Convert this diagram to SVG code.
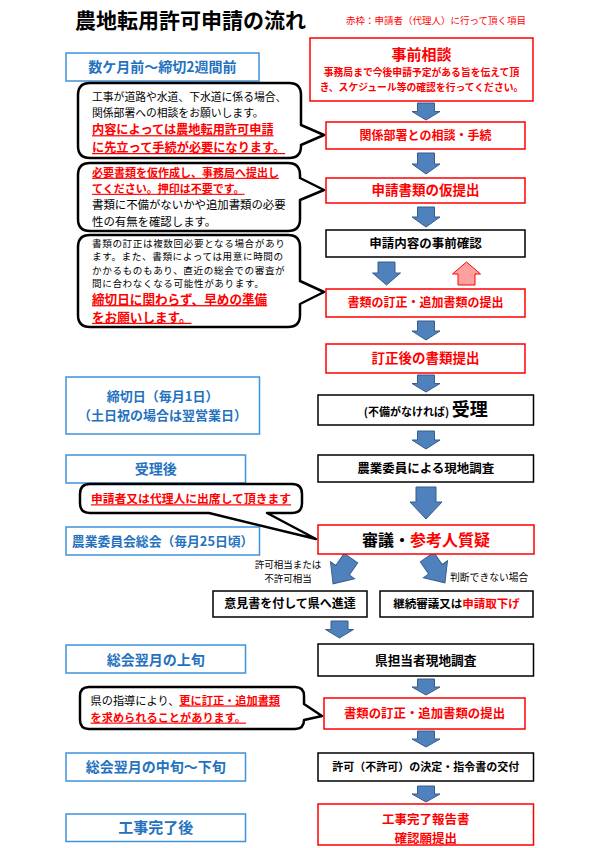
<svg xmlns="http://www.w3.org/2000/svg" width="600" height="848" viewBox="0 0 600 848">
<style>
text{font-family:"Noto Sans CJK JP","Noto Sans CJK SC",sans-serif;fill:#000}
.b{font-weight:700}
.m{text-anchor:middle}
.red{fill:#FF0000}
.blue{fill:#2472BF}
.u{text-decoration:underline}
.bx-r{fill:#fff;stroke:#FF0000;stroke-width:1.5}
.bx-k{fill:#fff;stroke:#000;stroke-width:1.5}
.bx-b{fill:#fff;stroke:#3F93DA;stroke-width:1.5}
.co{fill:#fff;stroke:#000;stroke-width:2.5;stroke-linejoin:round}
.arr{fill:#4F81BD;stroke:#385D8A;stroke-width:1}
.arr-up{fill:#FFA0A0;stroke:#FF0000;stroke-width:1}
</style>
<defs>
<path id="darr" d="M-9,-17 H9 V-1 H16 L0,17 L-16,-1 H-9 Z"/>
</defs>
<rect width="600" height="848" fill="#fff"/>

<g id="title">
<text x="75" y="28" class="b" font-size="21">農地転用許可申請の流れ</text>
<text x="346" y="24" class="red" font-size="9.5">赤枠：申請者（代理人）に行って頂く項目</text>
</g>

<!-- time labels -->
<g id="t1"><rect class="bx-b" x="66" y="53" width="193" height="28"/><text x="162.5" y="72.3" class="m b blue" font-size="14">数ケ月前～締切2週間前</text></g>
<g id="t2"><rect class="bx-b" x="66" y="377" width="193.5" height="57"/><text x="162.6" y="400.7" class="m b blue" font-size="13">締切日（毎月1日）</text><text x="162.6" y="420.2" class="m b blue" font-size="13">（土日祝の場合は翌営業日）</text></g>
<g id="t3"><rect class="bx-b" x="66" y="455" width="179.5" height="28"/><text x="155.7" y="474" class="m b blue" font-size="14">受理後</text></g>
<g id="t4"><rect class="bx-b" x="66" y="527" width="193.5" height="28"/><text x="162.6" y="546" class="m b blue" font-size="12.8">農業委員会総会（毎月25日頃）</text></g>
<g id="t5"><rect class="bx-b" x="66" y="645" width="179.5" height="28"/><text x="155.7" y="664.5" class="m b blue" font-size="14">総会翌月の上旬</text></g>
<g id="t6"><rect class="bx-b" x="66" y="753" width="179.5" height="28"/><text x="155.7" y="772" class="m b blue" font-size="14">総会翌月の中旬～下旬</text></g>
<g id="t7"><rect class="bx-b" x="66" y="814" width="179.5" height="27.5"/><text x="155.7" y="833" class="m b blue" font-size="15">工事完了後</text></g>

<!-- connectors -->
<g id="connectors">
<path class="arr" d="M417.5,103 H434.5 V111.5 H440 L426,120 L412,111.5 H417.5 Z"/>
<path class="arr" d="M417.5,153 H434.5 V164 H440 L426,174 L412,164 H417.5 Z"/>
<path class="arr" d="M417.5,207 H434.5 V217 H440 L426,227 L412,217 H417.5 Z"/>
<path class="arr" d="M378,262 H395 V273 H400.5 L386.5,285 L372.5,273 H378 Z"/>
<path class="arr-up" d="M458,285 H475 V274 H480.5 L466.5,262 L452.5,274 H458 Z"/>
<path class="arr" d="M417.5,321 H434.5 V331 H440 L426,340 L412,331 H417.5 Z"/>
<path class="arr" d="M417.5,375 H434.5 V383.5 H440 L426,392 L412,383.5 H417.5 Z"/>
<path class="arr" d="M417.5,431 H434.5 V440 H440 L426,449 L412,440 H417.5 Z"/>
<path class="arr" d="M416,487 H436 V502 H442 L426,519 L410,502 H416 Z"/>
<use href="#darr" class="arr" transform="translate(342,571) rotate(35) scale(0.92)"/>
<use href="#darr" class="arr" transform="translate(436,570) rotate(-35) scale(0.92)"/>
<path class="arr" d="M331,621 H348 V629.5 H353.5 L339.5,638 L325.5,629.5 H331 Z"/>
<path class="arr" d="M417.5,679 H434.5 V687 H440 L426,695 L412,687 H417.5 Z"/>
<path class="arr" d="M417.5,731 H434.5 V739 H440 L426,747 L412,739 H417.5 Z"/>
<path class="arr" d="M417.5,786 H434.5 V794 H440 L426,802 L412,794 H417.5 Z"/>
</g>

<!-- flow nodes -->
<g id="n1"><rect class="bx-r" x="310" y="38" width="223" height="63"/>
<text x="421.5" y="60.2" class="m b red" font-size="15">事前相談</text>
<text x="421.5" y="76.2" class="m b red" font-size="9.8">事務局まで今後申請予定がある旨を伝えて頂</text>
<text x="421.5" y="90.8" class="m b red" font-size="9.8">き、スケジュール等の確認を行ってください。</text></g>
<g id="n2"><rect class="bx-r" x="326" y="122" width="199" height="27"/><text x="425.5" y="139.8" class="m b red" font-size="12">関係部署との相談・手続</text></g>
<g id="n3"><rect class="bx-r" x="326" y="178" width="199" height="25"/><text x="425.5" y="195.3" class="m b red" font-size="13.5">申請書類の仮提出</text></g>
<g id="n4"><rect class="bx-k" x="326" y="230" width="199" height="27"/><text x="425.5" y="248" class="m b" font-size="12.5">申請内容の事前確認</text></g>
<g id="n5"><rect class="bx-r" x="326" y="289" width="199" height="28"/><text x="425.5" y="307.3" class="m b red" font-size="12">書類の訂正・追加書類の提出</text></g>
<g id="n6"><rect class="bx-r" x="326" y="344" width="199" height="29"/><text x="425.5" y="363.3" class="m b red" font-size="13.5">訂正後の書類提出</text></g>
<g id="n7"><rect class="bx-k" x="318" y="395" width="215.5" height="30"/><text x="425.75" y="416" class="m b"><tspan font-size="11">(不備がなければ) </tspan><tspan font-size="18">受理</tspan></text></g>
<g id="n8"><rect class="bx-k" x="318" y="455" width="215.5" height="27"/><text x="425.75" y="473" class="m b" font-size="12.5">農業委員による現地調査</text></g>
<g id="n9"><rect class="bx-r" x="318" y="525" width="216" height="29"/><text x="426" y="545.8" class="m b" font-size="16">審議・<tspan class="red">参考人質疑</tspan></text></g>
<g id="n10"><rect class="bx-k" x="213" y="591" width="154" height="26"/><text x="290" y="608.3" class="m b" font-size="12">意見書を付して県へ進達</text></g>
<g id="n11"><rect class="bx-k" x="380" y="591" width="153" height="26"/><text x="456.5" y="608.2" class="m b" font-size="11.5">継続審議又は<tspan class="red">申請取下げ</tspan></text></g>
<g id="n12"><rect class="bx-k" x="318" y="644" width="215.5" height="32"/><text x="425.75" y="664.6" class="m b" font-size="12.7">県担当者現地調査</text></g>
<g id="n13"><rect class="bx-r" x="324" y="698" width="201" height="31"/><text x="424.5" y="718" class="m b red" font-size="12.4">書類の訂正・追加書類の提出</text></g>
<g id="n14"><rect class="bx-k" x="318" y="753" width="215.5" height="28"/><text x="425.75" y="771" class="m b" font-size="11">許可（不許可）の決定・指令書の交付</text></g>
<g id="n15"><rect class="bx-r" x="318" y="804" width="215.5" height="41"/><text x="425.75" y="824.3" class="m b red" font-size="12.5">工事完了報告書</text><text x="425.75" y="842.5" class="m b red" font-size="12.5">確認願提出</text></g>

<!-- branch labels -->
<g id="labels">
<text x="288" y="568" class="m" font-size="9.5">許可相当または</text>
<text x="288" y="581.8" class="m" font-size="9.5">不許可相当</text>
<text x="450" y="581" font-size="9.8">判断できない場合</text>
</g>

<!-- callouts -->
<g id="c1"><path class="co" d="M90,83 H289 Q301,83 301,95 V125 L324,135 L301,145 V146 Q301,158 289,158 H90 Q78,158 78,146 V95 Q78,83 90,83 Z"/>
<text x="92" y="101.1" font-size="10.8">工事が道路や水道、下水道に係る場合、</text>
<text x="92" y="116.8" font-size="10.8">関係部署への相談をお願いします。</text>
<text x="92" y="134.2" class="b red u" font-size="12.2">内容によっては農地転用許可申請</text>
<text x="92" y="152" class="b red u" font-size="12.2">に先立って手続が必要になります。</text></g>
<g id="c2"><path class="co" d="M90,163 H288 Q300,163 300,175 V178 L324,190 L300,200 V219 Q300,231 288,231 H90 Q78,231 78,219 V175 Q78,163 90,163 Z"/>
<text x="92" y="176.8" class="b red u" font-size="11">必要書類を仮作成し、事務局へ提出し</text>
<text x="92" y="192.8" class="b red u" font-size="11">てください。押印は不要です。</text>
<text x="92" y="209.3" font-size="11.4">書類に不備がないかや追加書類の必要</text>
<text x="92" y="225.9" font-size="11.4">性の有無を確認します。</text></g>
<g id="c3"><path class="co" d="M90,235 H288 Q300,235 300,247 V281 L324,292 L300,304 V315 Q300,327 288,327 H90 Q78,327 78,315 V247 Q78,235 90,235 Z"/>
<text x="92" y="247" font-size="9.6" letter-spacing="0.6">書類の訂正は複数回必要となる場合があり</text>
<text x="92" y="260.4" font-size="9.6" letter-spacing="0.6">ます。また、書類によっては用意に時間の</text>
<text x="92" y="273.8" font-size="9.6" letter-spacing="0.6">かかるものもあり、直近の総会での審査が</text>
<text x="92" y="287.2" font-size="9.6" letter-spacing="0.6">間に合わなくなる可能性があります。</text>
<text x="92" y="304.1" class="b red u" font-size="12.6">締切日に関わらず、早めの準備</text>
<text x="92" y="321.8" class="b red u" font-size="12.6">をお願いします。</text></g>
<g id="c4"><path class="co" d="M90,484 H292 Q302,484 302,494 V503 Q302,513 292,513 H267 L316,539 L209,513 H90 Q80,513 80,503 V494 Q80,484 90,484 Z"/>
<text x="191" y="503.3" class="m b red u" font-size="11.8">申請者又は代理人に出席して頂きます</text></g>
<g id="c5"><path class="co" d="M89,687 H295 Q304,687 304,696 V704 L322,716 L304,720 Q304,729 295,729 H89 Q80,729 80,720 V696 Q80,687 89,687 Z"/>
<text x="90.5" y="704.5" font-size="11.2">県の指導により、<tspan class="b red u">更に訂正・追加書類</tspan></text>
<text x="90.5" y="721.6" class="b red u" font-size="11.2">を求められることがあります。</text></g>
</svg>
